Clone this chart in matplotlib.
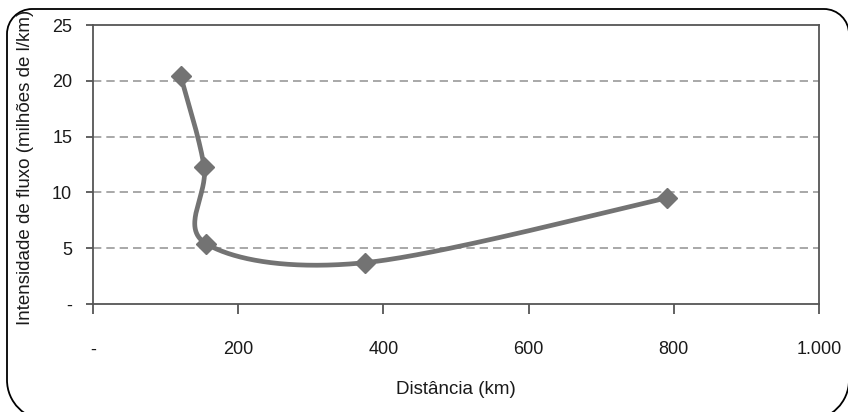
import numpy as np
import matplotlib
matplotlib.use("Agg")
import matplotlib.pyplot as plt
from matplotlib.patches import PathPatch
from matplotlib.path import Path
from matplotlib.ticker import FixedLocator, FixedFormatter

plt.rcParams['font.family'] = ['Liberation Sans', 'DejaVu Sans']

distancia = [121, 153, 156, 374, 790]
intensidade = [20.4, 12.3, 5.4, 3.7, 9.5]
x_ticks = [0, 200, 400, 600, 800, 1000]
x_labels = ['-', '200', '400', '600', '800', '1.000']
y_ticks = [0, 5, 10, 15, 20, 25]
y_labels = ['-', '5', '10', '15', '20', '25']

W, H = 848, 412
fig = plt.figure(figsize=(W / 100, H / 100), dpi=100)
ax = fig.add_axes([93/W, 1-304/H, (819-93)/W, (304-25)/H])
ax.set_xlim(0, 1000)
ax.set_ylim(0, 25)
fig.canvas.draw()

# Excel-like smooth curve (Catmull-Rom Bezier in display space)
pts = ax.transData.transform(np.column_stack([distancia, intensidade]))
n = len(pts)
curve = []
for i in range(n - 1):
    p0 = pts[i - 1] if i > 0 else pts[i]
    p1 = pts[i]
    p2 = pts[i + 1]
    p3 = pts[i + 2] if i + 2 < n else pts[i + 1]
    c1 = p1 + (p2 - p0) / 6
    c2 = p2 - (p3 - p1) / 6
    t = np.linspace(0, 1, 60)[:, None]
    seg = ((1 - t) ** 3) * p1 + 3 * ((1 - t) ** 2) * t * c1 + 3 * (1 - t) * t ** 2 * c2 + t ** 3 * p2
    curve.append(seg if i == 0 else seg[1:])
curve = np.vstack(curve)
curve_data = ax.transData.inverted().transform(curve)

col = '#737373'
ax.plot(curve_data[:, 0], curve_data[:, 1], color=col, lw=3.4, solid_capstyle='round', zorder=3)
ax.plot(distancia, intensidade, linestyle='none', marker='D', ms=10.5, color=col, zorder=4)

for y in y_ticks[1:-1]:
    ax.axhline(y, color='#999999', lw=1.2, ls=(0, (5, 3)), zorder=1)

for s in ax.spines.values():
    s.set_color('#555555')
    s.set_linewidth(1.3)

ax.xaxis.set_major_locator(FixedLocator(x_ticks))
ax.xaxis.set_major_formatter(FixedFormatter(x_labels))
ax.yaxis.set_major_locator(FixedLocator(y_ticks))
ax.yaxis.set_major_formatter(FixedFormatter(y_labels))
ax.tick_params(axis='x', direction='out', length=7, width=1.3, color='#555555', pad=20, labelsize=13, labelcolor='#1a1a1a')
ax.tick_params(axis='y', direction='out', length=5, width=1.3, color='#555555', pad=10, labelsize=13, labelcolor='#1a1a1a')

fig.text(456/W, 1-390/H, 'Distância (km)', fontsize=13.5, color='#1a1a1a', ha='center', va='center')
fig.text(26/W, 1-167/H, 'Intensidade de fluxo (milhões de l/km)', rotation=90, fontsize=13.5,
         color='#1a1a1a', ha='center', va='center')

# rounded outer border (pixel coords, y downward -> converted); bottom edge lies off-canvas
L, R, T, B = 7, 849, 9, 420
rt, rb = 25, 40
k = 0.5523
def P(x, y):
    return (x / 100, (H - y) / 100)
verts = [P(L + rb, B),
         P(L + rb - k * rb, B), P(L, B - rb + k * rb), P(L, B - rb),
         P(L, T + rt),
         P(L, T + rt - k * rt), P(L + rt - k * rt, T), P(L + rt, T),
         P(R - rt, T),
         P(R - rt + k * rt, T), P(R, T + rt - k * rt), P(R, T + rt),
         P(R, B - rb),
         P(R, B - rb + k * rb), P(R - rb + k * rb, B), P(R - rb, B)]
codes = [Path.MOVETO,
         Path.CURVE4, Path.CURVE4, Path.CURVE4,
         Path.LINETO,
         Path.CURVE4, Path.CURVE4, Path.CURVE4,
         Path.LINETO,
         Path.CURVE4, Path.CURVE4, Path.CURVE4,
         Path.LINETO,
         Path.CURVE4, Path.CURVE4, Path.CURVE4]
border = PathPatch(Path(verts, codes), transform=fig.dpi_scale_trans, fill=False, ec='black', lw=1.3)
fig.patches.append(border)

fig.savefig('out.png', dpi=100)
